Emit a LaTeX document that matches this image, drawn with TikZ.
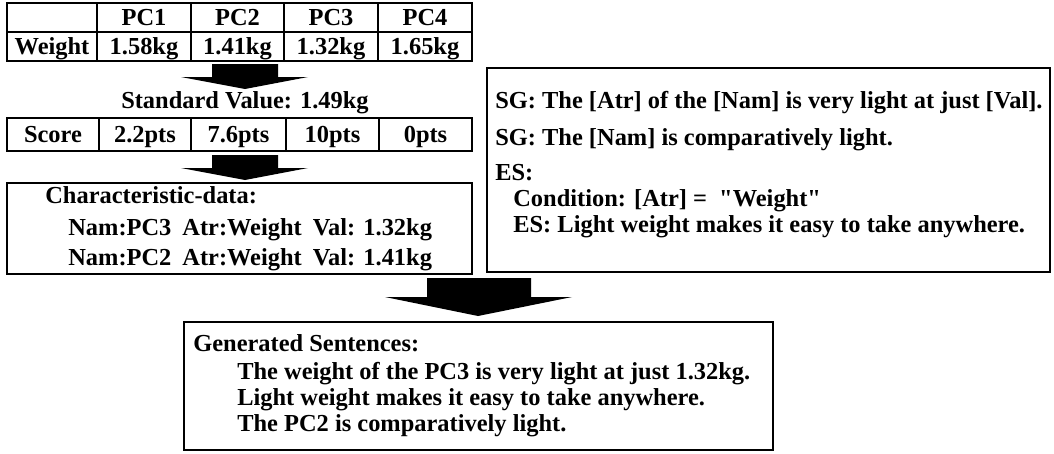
\documentclass[tikz,border=0pt]{standalone}
\usepackage{fontspec}
\setmainfont{Liberation Serif}[Ligatures=TeXOff]
\usepackage{tikz}
\newcommand{\sgfont}{\fontsize{13.9}{16.5}\selectfont\bfseries}

\begin{document}
\begin{tikzpicture}[x=0.02cm,y=-0.02cm]
\tikzstyle{every node}+=[inner sep=0pt, font=\sgfont]
\tikzstyle{frame}=[black, line width=1.1pt]
\useasboundingbox (0,0) rectangle (1054,453);
% attribute table
\draw [frame] (7,3) rectangle (472,61);
\draw [frame] (7,32) -- (472,32);
\draw [frame] (97,3) -- (97,61);
\draw [frame] (191,3) -- (191,61);
\draw [frame] (284,3) -- (284,61);
\draw [frame] (378,3) -- (378,61);
\draw (144,25.5) node [anchor=base] (pc1) {PC1};
\draw (237.5,25.5) node [anchor=base] (pc2) {PC2};
\draw (331,25.5) node [anchor=base] (pc3) {PC3};
\draw (425,25.5) node [anchor=base] (pc4) {PC4};
\draw (52,54.5) node [anchor=base] (wlabel) {Weight};
\draw (144,54.5) node [anchor=base] (w1) {1.58kg};
\draw (237.5,54.5) node [anchor=base] (w2) {1.41kg};
\draw (331,54.5) node [anchor=base] (w3) {1.32kg};
\draw (425,54.5) node [anchor=base] (w4) {1.65kg};
\fill [black] (212,64) -- (278,64) -- (278,77) -- (308,77) -- (245,89) -- (181,77) -- (212,77) -- cycle;
\draw (245,108) node [anchor=base] (stdval) {Standard Value: 1.49kg};
% score table
\draw [frame] (7,118) rectangle (472,151);
\draw [frame] (99,118) -- (99,151);
\draw [frame] (191,118) -- (191,151);
\draw [frame] (286,118) -- (286,151);
\draw [frame] (379,118) -- (379,151);
\draw (53,142.5) node [anchor=base] (slabel) {Score};
\draw (145,142.5) node [anchor=base] (s1) {2.2pts};
\draw (238.5,142.5) node [anchor=base] (s2) {7.6pts};
\draw (332.5,142.5) node [anchor=base] (s3) {10pts};
\draw (425.5,142.5) node [anchor=base] (s4) {0pts};
\fill [black] (212,155) -- (278,155) -- (278,168) -- (308,168) -- (245,180) -- (181,168) -- (212,168) -- cycle;
% characteristic data
\draw [frame] (7,183) rectangle (472,274);
\draw (45,203) node [anchor=base west] (chartitle) {Characteristic-data:};
\draw (68,235) node [anchor=base west] (char1) {Nam:PC3\hspace{0.45em}Atr:Weight\hspace{0.45em}Val: 1.32kg};
\draw (68,265) node [anchor=base west] (char2) {Nam:PC2\hspace{0.45em}Atr:Weight\hspace{0.45em}Val: 1.41kg};
% sentence rules
\draw [frame] (487,68) rectangle (1050,272);
\draw (495,108) node [anchor=base west] (sg1) {SG: The [Atr] of the [Nam] is very light at just [Val].};
\draw (495,145) node [anchor=base west] (sg2) {SG: The [Nam] is comparatively light.};
\draw (495,180) node [anchor=base west] (es) {ES:};
\draw (513,206) node [anchor=base west] (escond) {Condition: [Atr] = \ "Weight"};
\draw (513,232) node [anchor=base west] (estext) {ES: Light weight makes it easy to take anywhere.};
\fill [black] (427,278) -- (531,278) -- (531,297) -- (572,297) -- (478,316) -- (385,297) -- (427,297) -- cycle;
% generated sentences
\draw [frame] (184,322) rectangle (773,450);
\draw (193,351) node [anchor=base west] (gentitle) {Generated Sentences:};
\draw (237,379) node [anchor=base west] (gen1) {The weight of the PC3 is very light at just 1.32kg.};
\draw (237,405) node [anchor=base west] (gen2) {Light weight makes it easy to take anywhere.};
\draw (237,431) node [anchor=base west] (gen3) {The PC2 is comparatively light.};
\end{tikzpicture}
\end{document}
